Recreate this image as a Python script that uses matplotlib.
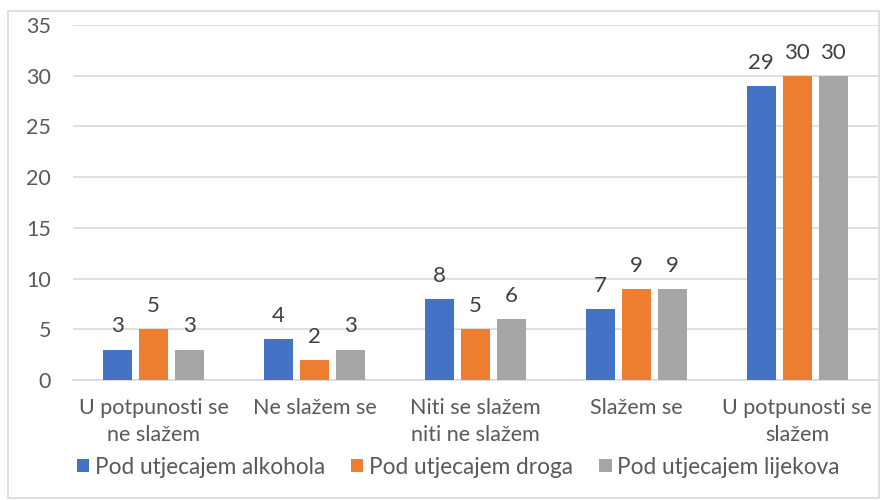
import matplotlib
matplotlib.use("Agg")
import matplotlib.pyplot as plt
from matplotlib.patches import Rectangle
import numpy as np

categories = ["U potpunosti se\nne slažem", "Ne slažem se", "Niti se slažem\nniti ne slažem",
              "Slažem se", "U potpunosti se\nslažem"]
series_names = ["Pod utjecajem alkohola", "Pod utjecajem droga", "Pod utjecajem lijekova"]
alkohol = [3, 4, 8, 7, 29]
droga = [5, 2, 5, 9, 30]
lijekovi = [3, 3, 6, 9, 30]
colors = ["#4472C4", "#ED7D31", "#A5A5A5"]
yticks = [0, 5, 10, 15, 20, 25, 30, 35]

plt.rcParams["font.family"] = ["Lato", "DejaVu Sans"]
text_color = "#595959"

fig = plt.figure(figsize=(8.82, 5), dpi=100)
ax = fig.add_axes([0.083, 0.24, 0.912, 0.71])

# light border around the whole chart
fig.patches.append(Rectangle((0.009, 0.004), 0.988, 0.975, transform=fig.transFigure,
                             fill=False, edgecolor="#D9D9D9", linewidth=1.2))

x = np.arange(len(categories))
width = 0.18
step = 0.224
for i, (vals, col, name) in enumerate(zip([alkohol, droga, lijekovi], colors, series_names)):
    pos = x + (i - 1) * step
    bars = ax.bar(pos, vals, width, color=col, label=name, zorder=3)
    for b, v in zip(bars, vals):
        ax.text(b.get_x() + b.get_width() / 2, v + 1.3, str(v), ha="center", va="bottom",
                fontsize=16, color="#404040")

ax.set_xlim(-0.5, len(categories) - 0.5)
ax.set_ylim(0, 35)
ax.set_yticks(yticks)
ax.yaxis.grid(True, color="#D9D9D9", linewidth=1.2, zorder=0)
ax.set_axisbelow(True)
for s in ["top", "right", "left"]:
    ax.spines[s].set_visible(False)
ax.spines["bottom"].set_color("#D9D9D9")
ax.spines["bottom"].set_linewidth(1.2)
ax.tick_params(axis="both", length=0, labelsize=15.5, colors=text_color)
ax.tick_params(axis="x", pad=13)
ax.tick_params(axis="y", pad=16)
ax.set_xticks(x)
ax.set_xticklabels(categories, linespacing=1.45)

ax.legend(loc="upper left", bbox_to_anchor=(-0.007, -0.19), ncol=3, frameon=False,
          fontsize=16.3, labelcolor=text_color, handlelength=0.55, handleheight=0.55,
          handletextpad=0.25, columnspacing=1.15, borderaxespad=0)

fig.savefig("out.png", dpi=100)
